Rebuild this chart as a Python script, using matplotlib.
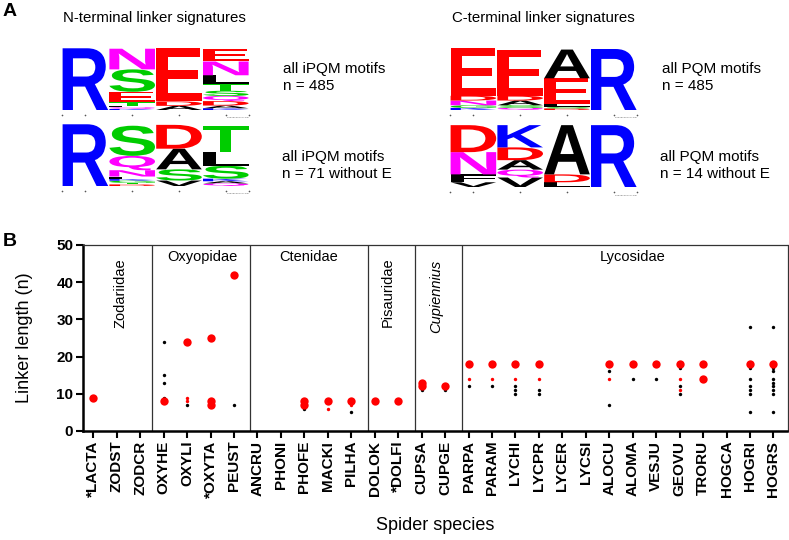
import numpy as np
import matplotlib
matplotlib.use('Agg')
import matplotlib.pyplot as plt
from matplotlib.textpath import TextPath
from matplotlib.patches import PathPatch
from matplotlib.font_manager import FontProperties
from matplotlib.transforms import Affine2D

plt.rcParams['font.family'] = ['Liberation Sans', 'DejaVu Sans']

# ---------------- panel B data ----------------
species = ['*LACTA', 'ZODST', 'ZODCR', 'OXYHE', 'OXYLI', '*OXYTA', 'PEUST',
           'ANCRU', 'PHONI', 'PHOFE', 'MACKI', 'PILHA', 'DOLOK', '*DOLFI',
           'CUPSA', 'CUPGE', 'PARPA', 'PARAM', 'LYCHI', 'LYCPR', 'LYCER',
           'LYCSI', 'ALOCU', 'ALOMA', 'VESJU', 'GEOVU', 'TRORU', 'HOGCA',
           'HOGRI', 'HOGRS']

families = ['Zodariidae', 'Oxyopidae', 'Ctenidae', 'Pisauridae', 'Cupiennius', 'Lycosidae']

# large red dots
big_red_species = ['*LACTA', 'OXYHE', 'OXYLI', '*OXYTA', '*OXYTA', '*OXYTA', 'PEUST',
                   'PHOFE', 'PHOFE', 'MACKI', 'PILHA', 'DOLOK', '*DOLFI',
                   'CUPSA', 'CUPSA', 'CUPGE', 'PARPA', 'PARAM', 'LYCHI', 'LYCPR',
                   'ALOCU', 'ALOMA', 'VESJU', 'GEOVU', 'TRORU', 'TRORU', 'HOGRI', 'HOGRS']
big_red_values = [9, 8, 24, 25, 8, 7, 42,
                  8, 7, 8, 8, 8, 8,
                  13, 12, 12, 18, 18, 18, 18,
                  18, 18, 18, 18, 18, 14, 18, 18]

# small red dots
small_red_species = ['OXYLI', 'OXYLI', 'MACKI', 'PILHA', 'PARPA', 'PARAM', 'LYCHI',
                     'LYCPR', 'ALOCU', 'GEOVU', 'GEOVU']
small_red_values = [9, 8, 6, 7, 14, 14, 14, 14, 14, 14, 11]

# small black dots
black_species = ['OXYHE', 'OXYHE', 'OXYHE', 'OXYHE', 'OXYLI', 'PEUST', 'PHOFE', 'PILHA',
                 'CUPSA', 'CUPGE', 'PARPA', 'PARAM', 'LYCHI', 'LYCHI', 'LYCHI',
                 'LYCPR', 'LYCPR', 'ALOCU', 'ALOCU', 'ALOMA', 'VESJU',
                 'GEOVU', 'GEOVU', 'GEOVU',
                 'HOGRI', 'HOGRI', 'HOGRI', 'HOGRI', 'HOGRI', 'HOGRI', 'HOGRI',
                 'HOGRS', 'HOGRS', 'HOGRS', 'HOGRS', 'HOGRS', 'HOGRS', 'HOGRS', 'HOGRS', 'HOGRS']
black_values = [24, 15, 13, 9, 7, 7, 6, 5,
                11, 11, 12, 12, 12, 11, 10,
                11, 10, 16, 7, 14, 14,
                17, 12, 10,
                28, 17, 14, 12, 11, 10, 5,
                28, 17, 16, 14, 13, 12, 11, 10, 5]

# ---------------- panel A data (sequence logos, bits, top to bottom) ----------------
nt_all_letters = [['R'], ['N', 'S', 'E', 'T', 'L', 'Q', 'K'],
                  ['E', 'D', 'A'], ['E', 'N', 'L', 'T', 'S', 'Q', 'D', 'A', 'K']]
nt_all_bits = [[4.3], [1.44, 1.56, 0.72, 0.24, 0.12, 0.12, 0.07],
               [3.72, 0.31, 0.29], [0.89, 0.96, 0.6, 0.48, 0.36, 0.36, 0.31, 0.19, 0.12]]

nt_noE_letters = [['R'], ['S', 'Q', 'N', 'L', 'K', 'G', 'T', 'D'],
                  ['D', 'A', 'S', 'V'], ['T', 'L', 'S', 'K', 'A', 'Q']]
nt_noE_bits = [[4.3], [2.1, 1.0, 0.44, 0.18, 0.11, 0.15, 0.11, 0.11],
               [1.66, 1.44, 0.78, 0.38], [1.77, 1.0, 0.89, 0.18, 0.15, 0.18]]

ct_all_letters = [['E', 'D', 'N', 'G', 'K'], ['E', 'D', 'A', 'S', 'Q'],
                  ['A', 'E', 'L', 'S', 'D'], ['R']]
ct_all_bits = [[3.32, 0.33, 0.33, 0.18, 0.15], [3.21, 0.33, 0.33, 0.18, 0.15],
               [2.0, 1.77, 0.22, 0.11, 0.11], [4.25]]

ct_noE_letters = [['D', 'N', 'F', 'V'], ['K', 'D', 'A', 'Q', 'V'], ['A', 'D', 'L'], ['R']]
ct_noE_bits = [[1.88, 1.55, 0.55, 0.33], [1.55, 0.89, 0.66, 0.55, 0.66],
               [3.43, 0.55, 0.33], [4.31]]

aa_colors = {}
for aa in 'DE':
    aa_colors[aa] = '#FF0000'
for aa in 'KRH':
    aa_colors[aa] = '#0000FF'
for aa in 'NQ':
    aa_colors[aa] = '#FF00FF'
for aa in 'GSTYC':
    aa_colors[aa] = '#00CC00'
for aa in 'AVLIPWFM':
    aa_colors[aa] = '#000000'

W, H = 789, 540
fig = plt.figure(figsize=(W / 100, H / 100), dpi=100)

# overlay axes in pixel units for panel A
ax0 = fig.add_axes([0, 0, 1, 1])
ax0.set_xlim(0, W)
ax0.set_ylim(H, 0)
ax0.axis('off')

logo_font = FontProperties(family='Liberation Sans', weight='bold')
max_bits = 4.32
col_w = 46.8
logo_h = 62


def draw_letter(ax, letter, x, y_bottom, w, h, color):
    tp = TextPath((0, 0), letter, size=10, prop=logo_font)
    bb = tp.get_extents()
    tr = (Affine2D().translate(-bb.x0, -bb.y0)
          .scale(w / bb.width, -h / bb.height)
          .translate(x, y_bottom))
    ax.add_patch(PathPatch(tr.transform_path(tp), facecolor=color, edgecolor='none', lw=0))


def draw_logo(ax, left, top, letters, bits):
    bottom = top + logo_h
    for i in range(len(letters)):
        y = bottom
        for letter, b in reversed(list(zip(letters[i], bits[i]))):
            h = b / max_bits * logo_h
            draw_letter(ax, letter, left + i * col_w + 0.6, y, col_w - 1.2, h, aa_colors[letter])
            y -= h
    # little axis dots of the logo
    xs = [left] + [left + (i + 0.5) * col_w for i in range(len(letters))] + [left + len(letters) * col_w]
    ax.plot(xs, [bottom + 5] * len(xs), 'o', color='#555555', ms=1.2, mew=0)
    ax.text(left + len(letters) * col_w, bottom + 8, 'weblogo.berkeley.edu', fontsize=1.6,
            color='#666666', ha='right', va='center')


draw_logo(ax0, 62, 48, nt_all_letters, nt_all_bits)
draw_logo(ax0, 62, 124, nt_noE_letters, nt_noE_bits)
draw_logo(ax0, 450, 48, ct_all_letters, ct_all_bits)
draw_logo(ax0, 450, 125, ct_noE_letters, ct_noE_bits)

ax0.text(3, 12, 'A', fontsize=14, fontweight='bold', va='center', ha='left')
ax0.text(3, 241, 'B', fontsize=14, fontweight='bold', va='center', ha='left')
ax0.text(63, 18, 'N-terminal linker signatures', fontsize=10.8, va='center', ha='left')
ax0.text(452, 18, 'C-terminal linker signatures', fontsize=10.8, va='center', ha='left')
ax0.text(283, 69, 'all iPQM motifs', fontsize=11, va='center', ha='left')
ax0.text(283, 86, 'n = 485', fontsize=11, va='center', ha='left')
ax0.text(282, 157, 'all iPQM motifs', fontsize=11, va='center', ha='left')
ax0.text(282, 174, 'n = 71 without E', fontsize=11, va='center', ha='left')
ax0.text(662, 69, 'all PQM motifs', fontsize=11, va='center', ha='left')
ax0.text(662, 86, 'n = 485', fontsize=11, va='center', ha='left')
ax0.text(660, 157, 'all PQM motifs', fontsize=11, va='center', ha='left')
ax0.text(660, 174, 'n = 14 without E', fontsize=11, va='center', ha='left')

# ---------------- panel B ----------------
ax = fig.add_axes([83 / W, 1 - 431 / H, (787.5 - 83) / W, (431 - 245) / H])
idx = {s: i for i, s in enumerate(species)}

ax.scatter([idx[s] for s in black_species], black_values, s=6, color='black', lw=0, zorder=3)
ax.scatter([idx[s] for s in small_red_species], small_red_values, s=6, color='#FF0000', lw=0, zorder=4)
ax.scatter([idx[s] for s in big_red_species], big_red_values, s=36, color='#FF0000', lw=0, zorder=5)

for xsep in [2.5, 6.7, 11.7, 13.7, 15.7]:
    ax.axvline(xsep, color='#333333', lw=0.9, zorder=1)

ax.text(1.15, 37, families[0], rotation=90, ha='center', va='center', fontsize=10.5)
ax.text(4.65, 46.8, families[1], ha='center', va='center', fontsize=10.5)
ax.text(9.2, 46.8, families[2], ha='center', va='center', fontsize=10.5)
ax.text(12.55, 37.4, families[3], rotation=90, ha='center', va='center', fontsize=10.5)
ax.text(14.6, 36.3, families[4], rotation=90, ha='center', va='center', fontsize=10.5, style='italic')
ax.text(23.0, 46.8, families[5], ha='center', va='center', fontsize=10.5)

ax.set_xlim(-0.44, 29.6)
ax.set_ylim(0, 50)
ax.set_xticks(range(len(species)))
ax.set_xticklabels(species, rotation=90, fontweight='bold', fontsize=11)
ax.set_yticks(range(0, 51, 10))
ax.set_yticklabels([str(v) for v in range(0, 51, 10)], fontweight='bold', fontsize=11)
ax.tick_params(axis='both', direction='out', length=5, width=1.5, pad=2)

for side in ['left', 'bottom']:
    ax.spines[side].set_linewidth(1.8)
    ax.spines[side].set_color('black')
for side in ['top', 'right']:
    ax.spines[side].set_linewidth(0.9)
    ax.spines[side].set_color('#333333')

ax.set_xlabel('Spider species', fontsize=13, labelpad=14)
ax.set_ylabel('Linker length (n)', fontsize=13, labelpad=17)

fig.savefig('out.png', dpi=100)
